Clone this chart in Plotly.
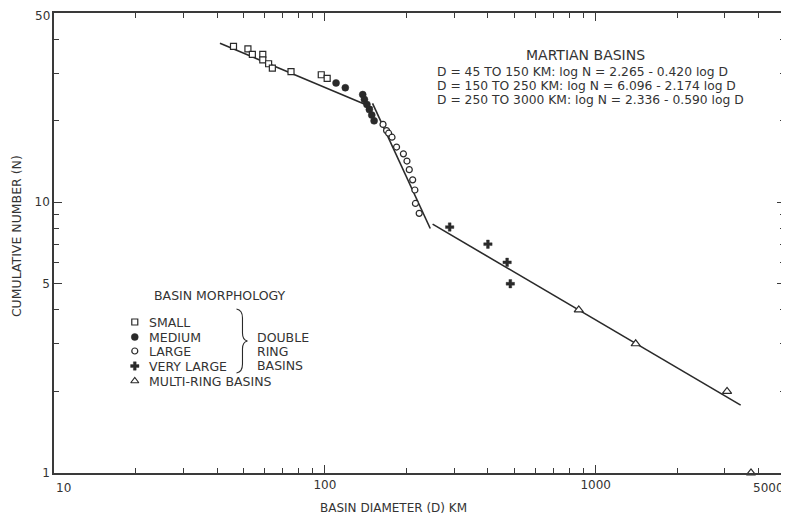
import plotly.graph_objects as go
import math

# ---- data ----
small_D = [46, 52, 54, 59, 59, 62, 64, 75, 97, 102]
small_N = [37.7, 36.9, 35.2, 35.2, 33.6, 32.5, 31.3, 30.4, 29.6, 28.7]

medium_D = [110, 119, 138, 140, 143, 146, 149, 152]
medium_N = [27.6, 26.5, 25, 24, 23, 22, 21, 20]

large_D = [164, 169, 172, 177, 184, 195, 201, 205, 211, 215, 216, 223]
large_N = [19.4, 18.4, 18.0, 17.4, 16.0, 15.1, 14.2, 13.2, 12.1, 11.1, 9.9, 9.1]

vlarge_D = [289, 400, 471, 484]
vlarge_N = [8.1, 7.0, 6.0, 5.0]

multi_D = [866, 1405, 3055, 3745]
multi_N = [4.0, 3.0, 2.0, 1.0]

# fitted segments (end points)
fit1_D = [41, 150]
fit1_N = [38.7, 22.4]
fit2_D = [150, 245]
fit2_N = [23.2, 8.0]
fit3_D = [250, 3430]
fit3_N = [8.3, 1.78]

x_major = [100, 1000]
x_major_text = ["100", "1000"]
x_minor = [20, 30, 40, 50, 60, 70, 80, 90, 200, 300, 400, 500, 600, 700, 800, 900, 2000, 3000, 4000]
y_major = [1, 5, 10, 50]
y_major_text = ["1", "5", "10", ""]
y_minor = [2, 3, 4, 6, 7, 8, 9, 20, 30, 40]

legend_labels = ["SMALL", "MEDIUM", "LARGE", "VERY LARGE", "MULTI-RING BASINS"]
equations = ["D = 45 TO 150 KM: log N = 2.265 - 0.420 log D",
             "D = 150 TO 250 KM: log N = 6.096 - 2.174 log D",
             "D = 250 TO 3000 KM: log N = 2.336 - 0.590 log D"]

FONT = "DejaVu Sans, Verdana, sans-serif"
INK = "#2a2a2a"
TXT = "#333333"

# page has an 8px body margin; figure is placed at (8, 8)
OFF = 8
W, H = 789 - OFF, 518 - OFF
L, R, T, B = 54 - OFF, 2, 13 - OFF, 45
PX0, PX1 = 54, 787      # plot area in page pixels
PY0, PY1 = 473, 13

def px(x):
    return (x - PX0) / (PX1 - PX0)

def py(y):
    return (PY0 - y) / (PY0 - PY1)

fig = go.Figure()

line_style = dict(color=INK, width=1.6)
for d, n in [(fit1_D, fit1_N), (fit2_D, fit2_N), (fit3_D, fit3_N)]:
    fig.add_trace(go.Scatter(x=d, y=n, mode="lines", line=line_style,
                             showlegend=False, hoverinfo="skip"))

def mk(symbol, size, fill, lw=1.2):
    return dict(symbol=symbol, size=size, color=fill, line=dict(color=INK, width=lw))

fig.add_trace(go.Scatter(x=small_D, y=small_N, mode="markers",
                         marker=mk("square", 6, "white"), showlegend=False))
fig.add_trace(go.Scatter(x=medium_D, y=medium_N, mode="markers",
                         marker=mk("circle", 7, INK, 0.5), showlegend=False))
fig.add_trace(go.Scatter(x=large_D, y=large_N, mode="markers",
                         marker=mk("circle", 6, "white"), showlegend=False))
fig.add_trace(go.Scatter(x=vlarge_D, y=vlarge_N, mode="markers",
                         marker=mk("cross", 7, INK, 0.4), showlegend=False))
fig.add_trace(go.Scatter(x=multi_D, y=multi_N, mode="markers", cliponaxis=False,
                         marker=mk("triangle-up", 8, "white"), showlegend=False))

# legend symbols on a pixel-coordinate overlay axis
leg_x = 135
leg_y = [322, 337, 351, 366, 381]
leg_markers = [mk("square", 6, "white"), mk("circle", 7, INK, 0.5),
               mk("circle", 6, "white"), mk("cross", 7, INK, 0.4),
               mk("triangle-up", 7, "white")]
for yy, m in zip(leg_y, leg_markers):
    fig.add_trace(go.Scatter(x=[leg_x], y=[yy], mode="markers", marker=m,
                             xaxis="x2", yaxis="y2", showlegend=False, hoverinfo="skip"))

LEGF = dict(family=FONT, size=12.5, color=TXT)
annotations = []
for yy, lab in zip(leg_y, legend_labels):
    annotations.append(dict(x=148, y=yy, xref="x2", yref="y2", text=lab, showarrow=False,
                            xanchor="left", yanchor="middle", borderpad=0, font=LEGF))
annotations.append(dict(x=220, y=295, xref="x2", yref="y2", text="BASIN MORPHOLOGY",
                        showarrow=False, xanchor="center", yanchor="middle", font=LEGF))
for yy, lab in zip([337, 351, 365], ["DOUBLE", "RING", "BASINS"]):
    annotations.append(dict(x=257, y=yy, xref="x2", yref="y2", text=lab, showarrow=False,
                            xanchor="left", yanchor="middle", borderpad=0, font=LEGF))

annotations.append(dict(x=587, y=55, xref="x2", yref="y2", text="MARTIAN BASINS",
                        showarrow=False, xanchor="center", yanchor="middle",
                        font=dict(family=FONT, size=14, color=TXT)))
for yy, eq in zip([72, 86, 100], equations):
    annotations.append(dict(x=437, y=yy, xref="x2", yref="y2", text=eq,
                            showarrow=False, xanchor="left", yanchor="middle", borderpad=0,
                            font=dict(family=FONT, size=12.3, color=TXT)))

# axis titles and edge tick labels
annotations.append(dict(x=px(394), y=py(508), xref="paper", yref="paper",
                        text="BASIN DIAMETER (D) KM", showarrow=False,
                        xanchor="center", yanchor="middle",
                        font=dict(family=FONT, size=12, color=TXT)))
annotations.append(dict(x=px(16), y=py(236), xref="paper", yref="paper",
                        text="CUMULATIVE NUMBER (N)", showarrow=False, textangle=-90,
                        xanchor="center", yanchor="middle",
                        font=dict(family=FONT, size=12.5, color=TXT)))
annotations.append(dict(x=px(64), y=py(488), xref="paper", yref="paper", text="10",
                        showarrow=False, xanchor="center", yanchor="middle",
                        font=dict(family=FONT, size=12, color=TXT)))
annotations.append(dict(x=px(788), y=py(488), xref="paper", yref="paper", text="5000",
                        showarrow=False, xanchor="right", yanchor="middle",
                        font=dict(family=FONT, size=12, color=TXT)))
annotations.append(dict(x=px(51), y=py(16), xref="paper", yref="paper", text="50",
                        showarrow=False, xanchor="right", yanchor="middle", borderpad=0,
                        font=dict(family=FONT, size=12, color=TXT)))

brace = ("M 237 309 Q 243 310 243 318 L 243 333 Q 243 340 248 341 "
         "Q 243 342 243 349 L 243 364 Q 243 372 237 373")
shapes = [dict(type="path", path=brace, xref="x2", yref="y2",
               line=dict(color=INK, width=1.1))]

axis_common = dict(showline=True, linecolor="#3a3a3a", linewidth=1.5, mirror="allticks",
                   ticks="inside", ticklen=8, tickwidth=1.2, tickcolor="#3a3a3a",
                   showgrid=False, zeroline=False,
                   tickfont=dict(family=FONT, size=12, color=TXT))

fig.update_layout(
    width=W, height=H,
    margin=dict(l=L, r=R, t=T, b=B, pad=0),
    paper_bgcolor="white", plot_bgcolor="white",
    showlegend=False,
    xaxis=dict(type="log", range=[1, math.log10(5000)], tickvals=x_major, ticktext=x_major_text,
               minor=dict(tickvals=x_minor, ticks="inside", ticklen=5, tickcolor="#3a3a3a", tickwidth=1),
               **axis_common),
    yaxis=dict(type="log", range=[-0.0005, math.log10(50) + 0.0005], tickvals=y_major,
               ticktext=y_major_text,
               minor=dict(tickvals=y_minor, ticks="inside", ticklen=5, tickcolor="#3a3a3a", tickwidth=1),
               **axis_common),
    xaxis2=dict(overlaying="x", anchor="y2", range=[PX0, PX1], visible=False, fixedrange=True),
    yaxis2=dict(overlaying="y", anchor="x2", range=[PY0, PY1], visible=False, fixedrange=True),
    annotations=annotations,
    shapes=shapes,
)

fig.write_html("out.html")
